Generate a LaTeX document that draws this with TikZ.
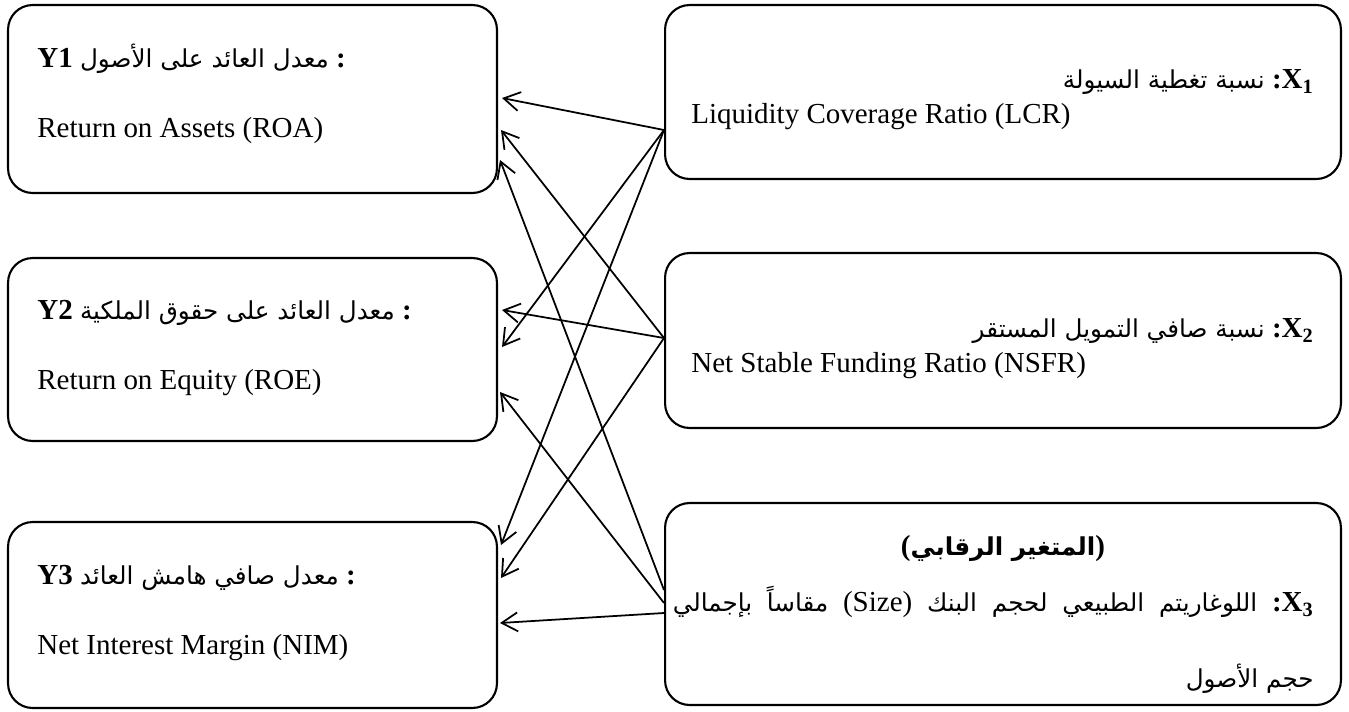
\documentclass[tikz,border=0pt]{standalone}
\usepackage{fontspec}
\setmainfont{Liberation Serif}
\newfontfamily\arabicfont[Script=Arabic,Scale=0.85]{DejaVu Sans}
\TeXXeTstate=1
\usetikzlibrary{arrows.meta, calc}

\begin{document}
\begin{tikzpicture}[
  x=0.02cm, y=-0.02cm,
  font=\fontsize{16.5}{20}\selectfont,
  varbox/.style={
    rectangle,
    rounded corners=14pt,
    draw=black,
    line width=1.2pt,
    inner sep=0pt
  },
  ybox/.style={varbox, minimum width=9.78cm},
  xbox/.style={varbox, minimum width=13.52cm},
  txt/.style={inner sep=0pt},
  arrow/.style={-{Straight Barb[length=3.2mm, width=3.8mm]}, line width=1pt}
]
\useasboundingbox (0,0) rectangle (1349,711);

% dependent variables
\node[ybox, minimum height=3.76cm] (y1) at (252.5,99) {};
\node[ybox, minimum height=3.66cm] (y2) at (252.5,349.5) {};
\node[ybox, minimum height=3.72cm] (y3) at (252.5,615) {};

% independent variables
\node[xbox, minimum height=3.48cm] (x1) at (1003,92) {};
\node[xbox, minimum height=3.5cm] (x2) at (1003,340.5) {};
\node[xbox, minimum height=4.04cm] (x3) at (1003,604) {};

% texts, left
\node[txt, anchor=base west] (y1ar) at ($(y1.north west)+(30,64)$)
  {\textbf{Y1} {\arabicfont\beginR معدل العائد على الأصول\endR} \textbf{:}};
\node[txt, anchor=base west] (y1en) at ($(y1.north west)+(30,134)$) {Return on Assets (ROA)};
\node[txt, anchor=base west] (y2ar) at ($(y2.north west)+(30,63)$)
  {\textbf{Y2} {\arabicfont\beginR معدل العائد على حقوق الملكية\endR} \textbf{:}};
\node[txt, anchor=base west] (y2en) at ($(y2.north west)+(30,133)$) {Return on Equity (ROE)};
\node[txt, anchor=base west] (y3ar) at ($(y3.north west)+(30,64)$)
  {\textbf{Y3} {\arabicfont\beginR معدل صافي هامش العائد\endR} \textbf{:}};
\node[txt, anchor=base west] (y3en) at ($(y3.north west)+(30,134)$) {Net Interest Margin (NIM)};

% texts, right
\node[txt, anchor=base east] (x1ar) at ($(x1.north east)+(-28,85)$)
  {{\arabicfont\beginR نسبة تغطية السيولة\endR} \textbf{:X\textsubscript{1}}};
\node[txt, anchor=base west] (x1en) at ($(x1.north west)+(27,120)$) {Liquidity Coverage Ratio (LCR)};
\node[txt, anchor=base east] (x2ar) at ($(x2.north east)+(-28,86)$)
  {{\arabicfont\beginR نسبة صافي التمويل المستقر\endR} \textbf{:X\textsubscript{2}}};
\node[txt, anchor=base west] (x2en) at ($(x2.north west)+(27,121)$) {Net Stable Funding Ratio (NSFR)};
\node[txt, anchor=base] (x3hd) at ($(x3.north)+(0,54)$)
  {\textbf{(}{\arabicfont\bfseries\beginR المتغير الرقابي\endR}\textbf{)}};
\node[txt, anchor=base east] (x3ar) at ($(x3.north east)+(-28,110)$)
  {\hbox to 12.82cm{\arabicfont\beginR اللوغاريتم الطبيعي لحجم البنك \beginL{\rmfamily(Size)}\endL\ مقاساً بإجمالي\endR\ \textbf{\rmfamily:X\textsubscript{3}}}};
\node[txt, anchor=base east] (x3ar2) at ($(x3.north east)+(-28,186)$)
  {{\arabicfont\beginR حجم الأصول\endR}};

% links
\draw[arrow] ($(x1.west)+(0,38)$) -- ($(y1.east)+(4,-1)$);
\draw[arrow] ($(x1.west)+(0,38)$) -- ($(y2.east)+(4,-2.5)$);
\draw[arrow] ($(x1.west)+(0,38)$) -- ($(y3.east)+(3,-70)$);
\draw[arrow] ($(x2.west)+(0,-2.5)$) -- ($(y1.east)+(3,31)$);
\draw[arrow] ($(x2.west)+(0,-2.5)$) -- ($(y2.east)+(4,-39.5)$);
\draw[arrow] ($(x2.west)+(0,-2.5)$) -- ($(y3.east)+(3,-37)$);
\draw[arrow] ($(x3.west)+(0,-14)$) -- ($(y1.east)+(2,61)$);
\draw[arrow] ($(x3.west)+(0,-1)$) -- ($(y2.east)+(2,42.5)$);
\draw[arrow] ($(x3.west)+(0,9)$) -- ($(y3.east)+(2,8)$);
\end{tikzpicture}
\end{document}
